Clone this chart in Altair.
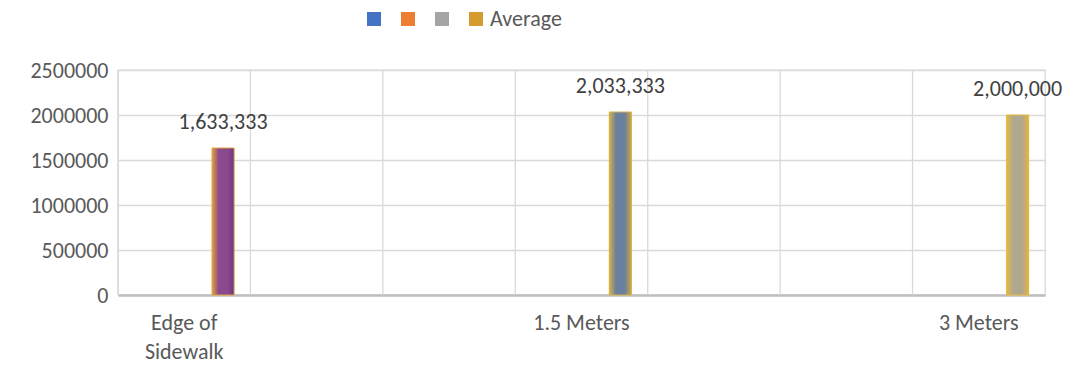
import altair as alt
import pandas as pd

# ---- data ----
categories = ["Edge of Sidewalk", "", "", "1.5 Meters", "", "", "3 Meters"]
series_names = ["Series1", "Series2", "Series3", "Average"]
series1 = [0, 0, 0, 0, 0, 0, 0]
series2 = [0, 0, 0, 0, 0, 0, 0]
series3 = [0, 0, 0, 0, 0, 0, 0]
average = [1633333, None, None, 2033333, None, None, 2000000]
y_ticks = [0, 500000, 1000000, 1500000, 2000000, 2500000]

# ---- styles ----
FONT = "Calibri, Carlito, Lato"
FS = 22
series_colors = ["#4472C4", "#ED7D31", "#A5A5A5", "#D69B2E"]
bar_styles = {  # slot -> (edge colour, centre colour, far edge colour)
    0: ("#E3A23C", "#8C4A8E", "#6E3384"),
    3: ("#D8B344", "#6B7F9F", "#C9A845"),
    6: ("#E6B93E", "#AFA78F", "#E3B53F"),
}

rows = []
for name, vals in zip(series_names, [series1, series2, series3, average]):
    for i, v in enumerate(vals):
        rows.append({"slot": i, "series": name, "value": v})
df = pd.DataFrame(rows)
slots = pd.DataFrame({"slot": list(range(len(categories)))})

label_items = []
for c in categories:
    if c == "Edge of Sidewalk":
        label_items.append("['Edge of','Sidewalk']")
    else:
        label_items.append("'" + c + "'")
label_expr = "[" + ",".join(label_items) + "][datum.value]"

xscale = alt.Scale(paddingInner=0, paddingOuter=0)
xaxis = alt.Axis(
    title=None, labelExpr=label_expr, labelAngle=0, ticks=False, grid=False,
    domainColor="#BFBFBF", domainWidth=2.5, labelFont=FONT, labelFontSize=FS,
    labelColor="#595959", labelPadding=17, labelLineHeight=29,
)
offscale = alt.Scale(domain=series_names, paddingInner=0, paddingOuter=1, align=0.63)
yscale = alt.Scale(domain=[0, 2500000], nice=False)
yaxis = alt.Axis(
    title=None, values=y_ticks, format="d", grid=True, gridColor="#D9D9D9",
    gridWidth=1.3, domain=False, ticks=False, labelFont=FONT, labelFontSize=FS,
    labelColor="#595959", labelPadding=10,
)

X = alt.X("slot:O", scale=xscale, axis=xaxis)
Y = alt.Y("value:Q", scale=yscale, axis=yaxis)
XO = alt.XOffset("series:N", scale=offscale)

grid = alt.Chart(slots).mark_rule(color="#D9D9D9", strokeWidth=1.3).encode(
    x=alt.X("slot:O", scale=xscale, axis=xaxis, bandPosition=0)
)

base = alt.Chart(df).mark_bar().transform_filter(
    "datum.value != null"
).encode(
    x=X, xOffset=XO, y=Y,
    color=alt.Color(
        "series:N",
        scale=alt.Scale(domain=series_names, range=series_colors),
        legend=alt.Legend(
            title=None, orient="none", legendX=245, legendY=-62,
            direction="horizontal", symbolType="square", symbolSize=196,
            symbolStrokeWidth=0, labelExpr="datum.label == 'Average' ? 'Average' : ''",
            labelFont=FONT, labelFontSize=FS, labelColor="#595959",
            labelOffset=3, columnPadding=9, padding=0,
        ),
    ),
)

layers = [grid, base]
for slot, (c0, c1, c2) in bar_styles.items():
    grad = alt.Gradient(
        gradient="linear", x1=0, x2=1, y1=0, y2=0,
        stops=[
            alt.GradientStop(color=c0, offset=0),
            alt.GradientStop(color=c1, offset=0.3),
            alt.GradientStop(color=c1, offset=0.7),
            alt.GradientStop(color=c2, offset=1),
        ],
    )
    layers.append(
        alt.Chart(df).mark_bar(color=grad, stroke=c0, strokeWidth=1).transform_filter(
            f"datum.series == 'Average' && datum.slot == {slot}"
        ).encode(x=X, xOffset=XO, y=Y)
    )

labels = alt.Chart(df).mark_text(
    font=FONT, fontSize=FS, color="#404040", dy=-26, baseline="middle"
).transform_filter(
    "datum.series == 'Average' && datum.value != null"
).encode(x=X, xOffset=XO, y=Y, text=alt.Text("value:Q", format=",.0f"))
layers.append(labels)

chart = alt.layer(*layers).properties(
    width=927, height=225,
    autosize=alt.AutoSizeParams(type="none"),
    padding={"left": 118, "top": 70, "right": 30, "bottom": 74},
    background="white",
).configure_view(stroke="#D9D9D9", strokeWidth=1.3)

chart.save("out.html", embed_options={"renderer": "svg", "actions": False})
